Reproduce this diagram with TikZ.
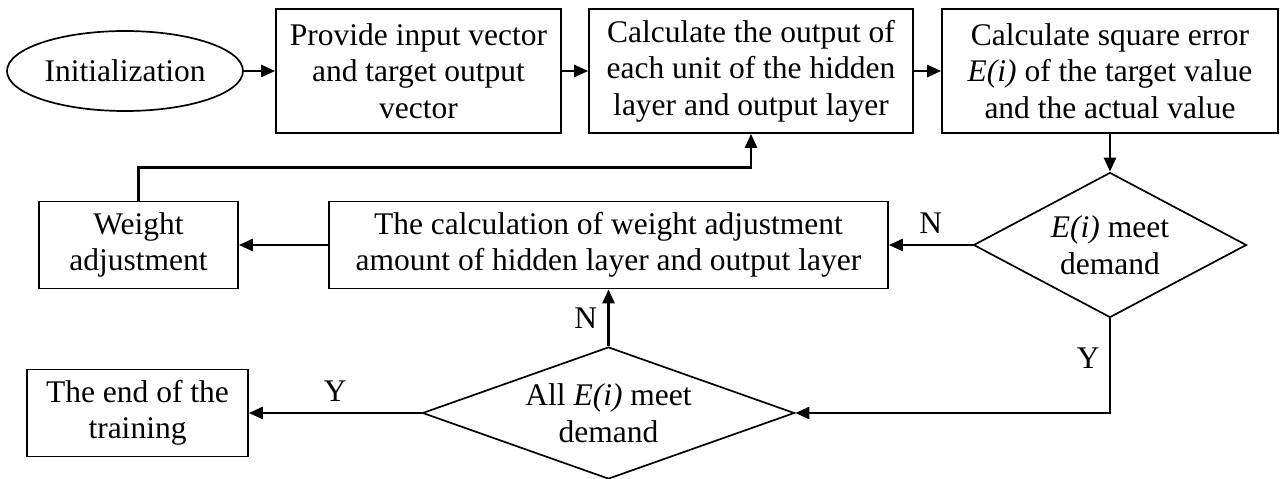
\documentclass[tikz,border=0pt]{standalone}
\usepackage{fontspec}
\setmainfont{Liberation Serif}
\usetikzlibrary{shapes.geometric,arrows.meta}
\begin{document}
\begin{tikzpicture}[x=1pt,y=-1pt,
  every node/.style={font=\fontsize{31.5}{36.5}\selectfont},
  box/.style={draw,line width=1.7pt,inner sep=0pt,align=center},
  oval/.style={ellipse,draw,line width=1.7pt,inner sep=0pt},
  choice/.style={diamond,draw,line width=1.7pt,inner sep=0pt},
  arr/.style={line width=2.6pt,-{Triangle[length=14pt,width=12pt]}},
  tag/.style={inner sep=0pt}
]
\useasboundingbox (0,0) rectangle (1280,479);

% top row
\node[oval,minimum width=236,minimum height=80,label=center:Initialization] (init) at (125,71) {};
\node[box,minimum width=285,minimum height=124] (b1) at (418.5,71)
  {Provide input vector\\and target output\\vector};
\node[box,minimum width=324,minimum height=124] (b2) at (751,71)
  {Calculate the output of\\each unit of the hidden\\layer and output layer};
\node[box,minimum width=336,minimum height=124] (b3) at (1110,71)
  {Calculate square error\\\textit{E(i)} of the target value\\and the actual value};

% middle row
\node[choice,minimum width=273,minimum height=145,
  label={[align=center]center:\textit{E(i)} meet\\demand}] (d1) at (1110,245) {};
\node[box,minimum width=559,minimum height=87] (calc) at (608.5,245)
  {The calculation of weight adjustment\\amount of hidden layer and output layer};
\node[box,minimum width=199,minimum height=87] (wadj) at (138.5,245)
  {Weight\\adjustment};

% bottom row
\node[choice,minimum width=372,minimum height=132,
  label={[align=center]center:All \textit{E(i)} meet\\demand}] (d2) at (608.5,413) {};
\node[box,minimum width=221,minimum height=87] (endb) at (137.5,413)
  {The end of the\\training};

% connectors
\draw[arr] (init) -- (b1);
\draw[arr] (b1) -- (b2);
\draw[arr] (b2) -- (b3);
\draw[arr] (b3.south) -- (d1.north);
\draw[arr] (d1.west) -- node[tag,above=10pt] (n1) {N} (calc.east);
\draw[arr] (calc.west) -- (wadj.east);
\draw[arr] (wadj.north) -- ++(0,-33) -| (b2.south);
\draw[arr] (d2.north) -- node[tag,left=10pt] (n2) {N} (calc.south);
\draw[arr] (d1.south) |- node[tag,pos=0.21,left=9pt] (y1) {Y} (d2.east);
\draw[arr] (d2.west) -- node[tag,above=10pt] (y2) {Y} (endb.east);
\end{tikzpicture}
\end{document}
